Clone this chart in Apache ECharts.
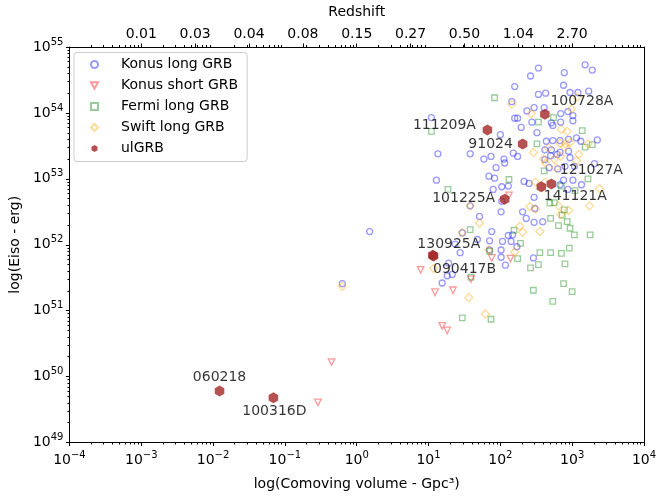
<!DOCTYPE html>
<html>
<head>
<meta charset="utf-8">
<script src="https://cdn.jsdelivr.net/npm/echarts@6/dist/echarts.min.js"></script>
<style>
    html, body { margin: 0; padding: 0; background: #fff; }
    #chart { width: 664px; height: 498px; }
</style>
</head>
<body>
<div id="chart"></div>
<script>
    // all values are log10 (comoving volume in Gpc^3, Eiso in erg)
    const konusLongLogV = [2.53, 2.89, 3.18, 3.28, 2.42, 2.20, 2.88, 2.53, 2.63, 2.97, 3.08, 3.23, 2.16, 1.04, 2.37, 2.47, 2.61, 2.84, 2.94, 3.01,
        2.20, 2.24, 2.29, 2.71, 2.73, 2.84, 3.01, 2.44, 2.51, 2.00, 1.13, 1.58, 1.77, 1.87, 2.05, 2.18, 2.24, 2.64, 2.73, 2.83,
        2.95, 3.06, 3.12, 3.35, 2.62, 2.71, 2.83, 2.95, 2.70, 2.79, 1.94, 2.68, 2.90, 3.03, 3.31, 2.62, 2.97, 1.84, 1.92, 1.11,
        2.33, 2.40, 2.88, 3.01, 3.13, 1.90, 2.02, 2.11, 2.47, 2.02, 1.58, 2.01, 1.71, 2.31, 2.36, 2.48, 2.47, 2.59, 1.88, 2.11,
        2.17, 1.47, 1.37, 1.44, 1.68, 1.85, 1.85, 2.03, 2.15, 2.23, 2.01, 2.01, 2.07, 2.46, 1.28, 1.33, 1.26, 1.19, 0.18, -0.20,
        2.80, 2.83, 2.94, 2.06];
    const konusLongLogE = [54.68, 54.61, 54.73, 54.65, 54.56, 54.40, 54.42, 54.28, 54.30, 54.31, 54.31, 54.33, 54.17, 53.93, 54.03, 54.08, 54.08, 53.99, 54.02, 53.96,
        53.92, 53.92, 53.78, 53.85, 53.81, 53.86, 53.88, 53.86, 53.70, 53.67, 53.38, 53.38, 53.30, 53.34, 53.30, 53.39, 53.34, 53.57, 53.58, 53.58,
        53.60, 53.62, 53.57, 53.59, 53.44, 53.44, 53.40, 53.42, 53.35, 53.37, 53.17, 53.17, 53.19, 53.19, 53.23, 53.29, 53.32, 53.04, 53.01, 52.98,
        52.96, 52.93, 52.98, 52.98, 52.91, 52.84, 52.88, 52.89, 52.72, 52.66, 52.59, 52.50, 52.43, 52.50, 52.40, 52.55, 52.34, 52.35, 52.20, 52.14,
        52.15, 52.18, 52.01, 51.88, 52.08, 52.06, 51.92, 52.05, 52.05, 51.97, 51.92, 51.81, 51.69, 51.80, 51.72, 51.55, 51.53, 51.42, 52.20, 51.41,
        53.15, 52.91, 52.84, 53.24];

    const konusShortLogV = [2.12, 1.88, 2.14, 0.89, 1.59, 1.09, 1.34, 1.19, 1.26, -0.35, -0.54];
    const konusShortLogE = [52.75, 51.80, 51.79, 51.62, 51.48, 51.28, 51.31, 50.77, 50.70, 50.22, 49.61];

    const fermiLongLogV = [1.92, 1.04, 2.53, 2.74, 3.14, 2.51, 3.18, 3.28, 2.61, 2.12, 3.22, 1.27, 2.85, 3.04, 2.69, 2.75, 2.89, 2.86, 2.70, 2.81,
        2.93, 2.97, 3.03, 3.25, 1.58, 2.19, 2.28, 1.85, 2.24, 2.55, 2.70, 2.85, 2.96, 2.42, 2.53, 2.90, 1.59, 2.46, 2.88, 3.00,
        2.73, 1.47, 1.87];
    const fermiLongLogE = [54.23, 53.72, 53.86, 53.93, 53.73, 53.53, 53.48, 53.52, 53.12, 52.99, 53.00, 52.84, 52.89, 52.82, 52.63, 52.64, 52.53, 52.45, 52.40, 52.29,
        52.35, 52.25, 52.15, 52.15, 52.23, 52.22, 52.02, 51.90, 51.79, 51.88, 51.88, 51.87, 51.95, 51.65, 51.70, 51.71, 51.51, 51.31, 51.41, 51.29,
        51.14, 50.89, 50.87];

    const swiftLongLogV = [2.16, 2.43, 2.99, 3.07, 2.85, 2.93, 2.67, 2.83, 2.91, 2.97, 2.90, 2.46, 2.60, 2.63, 2.75, 2.84, 3.06, 3.09, 3.22, 2.78,
        2.49, 2.62, 3.38, 3.24, 1.58, 1.71, 2.41, 2.49, 2.81, 2.84, 2.95, 2.27, 2.31, 2.55, 1.47, 1.84, 2.20, 1.07, 1.56, 1.79,
        -0.20];
    const swiftLongLogE = [54.13, 53.99, 54.06, 54.24, 53.75, 53.72, 53.47, 53.54, 53.53, 53.55, 53.48, 53.40, 53.30, 53.24, 53.30, 53.34, 53.28, 53.37, 53.53, 53.17,
        52.95, 52.95, 52.85, 52.59, 52.59, 52.33, 52.58, 52.54, 52.59, 52.46, 52.52, 52.28, 52.19, 52.20, 52.19, 51.92, 51.89, 51.64, 51.20, 50.95,
        51.37];

    const ulgrbNames = ['060218', '100316D', '130925A', '090417B', '101225A', '141121A', '121027A', '91024', '111209A', '100728A'];
    const ulgrbLogV = [-1.91, -1.16, 1.06, 1.07, 2.06, 2.57, 2.71, 2.31, 1.82, 2.62];
    const ulgrbLogE = [49.78, 49.68, 51.84, 51.83, 52.69, 52.88, 52.92, 53.53, 53.74, 53.98];

    // top axis: redshift labels placed at these log volumes
    const redshiftLabels = ['0.01', '0.03', '0.04', '0.08', '0.15', '0.27', '0.50', '1.04', '2.70'];
    const redshiftLogV = [-3, -2.25, -1.5, -0.75, 0, 0.75, 1.5, 2.25, 3];

    // where each annotation sits relative to its point (px)
    const labelOffsets = {
        '060218': [0, -14], '100316D': [1, 14], '130925A': [16, -11], '090417B': [31, 13],
        '101225A': [-41, -1], '141121A': [34, 10], '121027A': [40, -14], '91024': [-32, 0],
        '111209A': [-43, -5], '100728A': [37, -13]
    };

    const FONT = 'DejaVu Sans';
    const HEX = 'path://M0,-1L0.866,-0.5L0.866,0.5L0,1L-0.866,0.5L-0.866,-0.5Z';
    const TRI_DOWN = 'path://M-1,-0.9L1,-0.9L0,0.9Z';

    function pairs(xs, ys) {
        return xs.map((x, i) => [x, ys[i]]);
    }

    // log minor ticks (2..9 x 10^k) in log space
    function minorTicks(from, to) {
        let out = [];
        for (let k = from; k < to; k++) {
            for (let m = 2; m <= 9; m++) out.push(k + Math.log10(m));
        }
        return out;
    }
    const minorX = minorTicks(-4, 4);
    const minorY = minorTicks(49, 55);

    const black = {color: '#000', width: 1};
    const supRich = {
        b: {fontSize: 14, lineHeight: 20, fontFamily: FONT, color: '#000'},
        s: {fontSize: 10, lineHeight: 9, verticalAlign: 'top', fontFamily: FONT, color: '#000'}
    };
    function powLabel(v) {
        return '{b|10}{s|' + String(Math.round(v)).replace('-', '\u2212') + '}';
    }
    const nameStyle = {fontSize: 14, fontFamily: FONT, color: '#000'};

    // axis that only carries the small log ticks
    function minorAxis(position, min, max, ticks) {
        return {
            type: 'value', position: position, min: min, max: max,
            axisLine: {show: false, onZero: false},
            axisTick: {length: 2, customValues: ticks, lineStyle: black},
            axisLabel: {show: false},
            splitLine: {show: false}
        };
    }

    function hollow(name, xs, ys, symbol, size, color) {
        return {
            name: name,
            type: 'scatter',
            data: pairs(xs, ys),
            symbol: symbol,
            symbolSize: size,
            itemStyle: {color: 'rgba(0,0,0,0)', borderColor: color, borderWidth: 1.3},
            emphasis: {disabled: true}
        };
    }

    let chart = echarts.init(document.getElementById('chart'));
    chart.setOption({
        animation: false,
        backgroundColor: '#fff',
        textStyle: {fontFamily: FONT},
        grid: {left: 66.5, right: 20, top: 43, bottom: 55.5},
        legend: {
            orient: 'vertical',
            left: 74,
            top: 52.5,
            padding: [5, 9, 6, 16],
            itemWidth: 7,
            itemHeight: 7,
            itemGap: 7,
            backgroundColor: 'rgba(255,255,255,0.8)',
            borderColor: '#cccccc',
            borderWidth: 1,
            borderRadius: 3,
            textStyle: {fontFamily: FONT, fontSize: 14, color: '#000', lineHeight: 14, padding: [0, 0, 0, 18]},
            data: ['Konus long GRB', 'Konus short GRB', 'Fermi long GRB', 'Swift long GRB', 'ulGRB']
        },
        xAxis: [
            {
                type: 'value', position: 'bottom', min: -4, max: 4, interval: 1,
                axisLine: {show: true, onZero: false, lineStyle: black},
                axisTick: {length: 3.5, lineStyle: black},
                axisLabel: {formatter: powLabel, rich: supRich, margin: 8},
                splitLine: {show: false},
                name: 'log(Comoving volume - Gpc³)', nameLocation: 'middle', nameGap: 35, nameTextStyle: nameStyle
            },
            minorAxis('bottom', -4, 4, minorX),
            {
                type: 'value', position: 'top', min: -4, max: 4,
                axisLine: {show: true, onZero: false, lineStyle: black},
                axisTick: {length: 3.5, customValues: redshiftLogV, lineStyle: black},
                axisLabel: {
                    customValues: redshiftLogV, margin: 6, fontSize: 14, fontFamily: FONT, color: '#000',
                    formatter: v => redshiftLabels[redshiftLogV.indexOf(v)]
                },
                splitLine: {show: false},
                name: 'Redshift', nameLocation: 'middle', nameGap: 28, nameTextStyle: nameStyle
            },
            minorAxis('top', -4, 4, minorX)
        ],
        yAxis: [
            {
                type: 'value', position: 'left', min: 49, max: 55, interval: 1,
                axisLine: {show: true, onZero: false, lineStyle: black},
                axisTick: {length: 3.5, lineStyle: black},
                axisLabel: {formatter: powLabel, rich: supRich, margin: 6},
                splitLine: {show: false},
                name: 'log(Eiso - erg)', nameLocation: 'middle', nameGap: 42, nameTextStyle: nameStyle
            },
            minorAxis('left', 49, 55, minorY),
            {
                type: 'value', position: 'right', min: 49, max: 55,
                axisLine: {show: true, onZero: false, lineStyle: black},
                axisTick: {show: false},
                axisLabel: {show: false},
                splitLine: {show: false}
            }
        ],
        series: [
            hollow('Konus long GRB', konusLongLogV, konusLongLogE, 'circle', 6, 'rgba(0,0,255,0.5)'),
            hollow('Konus short GRB', konusShortLogV, konusShortLogE, TRI_DOWN, 6.5, 'rgba(255,0,0,0.5)'),
            hollow('Fermi long GRB', fermiLongLogV, fermiLongLogE, 'rect', 5.5, 'rgba(0,128,0,0.5)'),
            hollow('Swift long GRB', swiftLongLogV, swiftLongLogE, 'diamond', 8, 'rgba(255,165,0,0.5)'),
            {
                name: 'ulGRB',
                type: 'scatter',
                symbol: HEX,
                symbolSize: 11,
                symbolKeepAspect: true,
                itemStyle: {color: '#a32626'},
                emphasis: {disabled: true},
                z: 5,
                label: {
                    show: true, position: 'inside', formatter: '{b}',
                    color: '#000', textBorderWidth: 0, fontSize: 14, fontFamily: FONT,
                    align: 'center', verticalAlign: 'middle'
                },
                data: ulgrbNames.map((n, i) => ({
                    name: n,
                    value: [ulgrbLogV[i], ulgrbLogE[i]],
                    label: {offset: labelOffsets[n]}
                }))
            }
        ]
    });
</script>
</body>
</html>
